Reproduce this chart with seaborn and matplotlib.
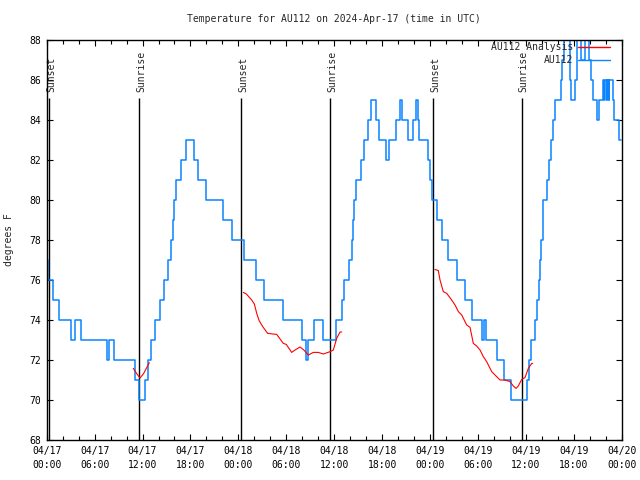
import numpy as np
import pandas as pd
import matplotlib
matplotlib.use('Agg')
import matplotlib.pyplot as plt
import matplotlib.dates as mdates
from matplotlib.lines import Line2D
import seaborn as sns

# hours after 2024-04-17 00:00 UTC where the observed temperature changes
obs_hours = [0.0, 0.2, 0.75, 1.55, 3.05, 3.6, 4.25, 7.55, 7.85, 8.45, 11.1, 11.5,
             12.35, 12.65, 13.1, 13.5, 14.15, 14.65, 15.2, 15.55, 15.8, 16.0, 16.15,
             16.85, 17.5, 18.45, 18.95, 19.95, 22.1, 23.25, 24.65, 26.15, 27.15,
             29.55, 31.95, 32.5, 32.75, 33.45, 34.6, 36.2, 36.95, 37.2, 37.8, 38.25,
             38.35, 38.45, 38.7, 39.3, 39.75, 40.2, 40.6, 41.2, 41.55, 42.45, 42.85,
             43.75, 44.3, 44.45, 45.3, 45.9, 46.3, 46.45, 46.6, 47.75, 47.95, 48.3,
             48.85, 49.55, 50.3, 51.35, 52.4, 53.3, 54.5, 54.7, 55.05, 56.35, 57.3,
             58.1, 60.15, 60.35, 60.6, 61.2, 61.45, 61.6, 61.75, 61.9, 62.1, 62.2,
             62.65, 62.85, 63.15, 63.35, 63.65, 64.35, 64.55, 64.75, 65.5, 65.6,
             66.15, 66.35, 66.9, 67.45, 67.95, 68.1, 68.4, 68.9, 69.2, 69.6, 69.8,
             69.9, 70.1, 70.2, 70.35, 70.45, 70.85, 71.0, 71.6, 71.95]
obs_temps = [77, 76, 75, 74, 73, 74, 73, 72, 73, 72, 71, 70,
             71, 72, 73, 74, 75, 76, 77, 78, 79, 80, 81,
             82, 83, 82, 81, 80, 79, 78, 77, 76, 75,
             74, 73, 72, 73, 74, 73, 74, 75, 76, 77, 78,
             79, 80, 81, 82, 83, 84, 85, 84, 83, 82, 83,
             84, 85, 84, 83, 84, 85, 84, 83, 82, 81, 80,
             79, 78, 77, 76, 75, 74, 73, 74, 73, 72, 71,
             70, 71, 72, 73, 74, 75, 76, 77, 78, 79, 80,
             81, 82, 83, 84, 85, 86, 87, 88, 86, 85,
             86, 88, 87, 88, 87, 86, 85, 84, 85, 86, 85,
             86, 85, 86, 85, 86, 85, 84, 83, 83]

# analysis (three runs)
ana_hours_1 = [10.85, 11.3, 11.68, 12.1, 12.5, 12.85]
ana_temps_1 = [71.58, 71.3, 71.1, 71.3, 71.6, 71.87]
ana_hours_2 = [24.62, 25.0, 25.67, 26.0, 26.3, 26.6, 27.05, 27.67, 28.8, 29.63, 30.0,
               30.67, 31.1, 31.72, 32.2, 32.76, 33.39, 34.0, 34.64, 35.5, 35.89, 36.31,
               36.73, 36.94]
ana_temps_2 = [75.38, 75.3, 75.0, 74.8, 74.33, 73.97, 73.67, 73.33, 73.28, 72.83, 72.78,
               72.38, 72.5, 72.65, 72.5, 72.25, 72.38, 72.38, 72.3, 72.42, 72.5, 73.08,
               73.4, 73.4]
ana_hours_3 = [48.62, 49.04, 49.25, 49.66, 50.09, 50.71, 51.13, 51.55, 51.97, 52.59,
               53.01, 53.42, 53.84, 54.26, 54.67, 55.09, 55.72, 56.14, 56.76, 57.39,
               58.01, 58.43, 58.77, 59.05, 59.48, 59.89, 60.31, 60.73, 60.85]
ana_temps_3 = [76.53, 76.47, 76.0, 75.42, 75.33, 75.0, 74.75, 74.42, 74.25, 73.75,
               73.63, 72.83, 72.7, 72.5, 72.17, 71.92, 71.42, 71.25, 71.0, 71.0,
               70.92, 70.7, 70.58, 70.7, 71.03, 71.12, 71.58, 71.83, 71.83]

sun_hours = [0.33, 11.6, 24.37, 35.51, 48.41, 59.55]
sun_labels = ['Sunset', 'Sunrise', 'Sunset', 'Sunrise', 'Sunset', 'Sunrise']

start = pd.Timestamp('2024-04-17 00:00')


def to_time(hours):
    return start + pd.to_timedelta(np.asarray(hours, dtype=float), unit='h')


sns.set_style('ticks')
plt.rcParams['font.family'] = ['DejaVu Sans Mono']
plt.rcParams['font.size'] = 7

blue = '#0a84ff'
red = '#ff0000'

obs = pd.DataFrame({'time': to_time(obs_hours), 'temp': obs_temps})
ana = pd.concat([
    pd.DataFrame({'time': to_time(h), 'temp': t, 'run': i})
    for i, (h, t) in enumerate([(ana_hours_1, ana_temps_1),
                                (ana_hours_2, ana_temps_2),
                                (ana_hours_3, ana_temps_3)])
])

fig = plt.figure(figsize=(6.4, 4.8), dpi=100)
ax = fig.add_axes([46.7 / 640, 1 - 440 / 480, 575 / 640, 400 / 480])

for h, lab in zip(sun_hours, sun_labels):
    t = to_time([h])[0]
    ax.vlines(t, 68, 85.1, color='black', lw=1.0, zorder=1)
    ax.text(to_time([h + 0.2])[0], 85.4, lab, rotation=90, ha='center', va='bottom',
            fontsize=7, zorder=1)

sns.lineplot(data=ana, x='time', y='temp', units='run', estimator=None,
             color=red, lw=0.8, ax=ax, zorder=3)
sns.lineplot(data=obs, x='time', y='temp', drawstyle='steps-post',
             color=blue, lw=1.1, ax=ax, zorder=2)

ax.set_xlim(start, start + pd.Timedelta(hours=72))
ax.set_ylim(68, 88)
ax.set_yticks(np.arange(68, 89, 2))
ax.xaxis.set_major_locator(mdates.HourLocator(byhour=[0, 6, 12, 18]))
ax.xaxis.set_minor_locator(mdates.HourLocator(byhour=range(0, 24, 2)))
ax.xaxis.set_major_formatter(mdates.DateFormatter('%m/%d\n%H:%M'))
ax.tick_params(which='both', direction='in', top=True, right=True, width=0.8,
               colors='black', labelsize=7)
ax.tick_params(which='major', length=4.5, pad=4)
ax.tick_params(which='minor', length=3)
for lab in ax.get_xticklabels():
    lab.set_linespacing(1.6)
for sp in ax.spines.values():
    sp.set_color('black')
    sp.set_linewidth(1.0)

ax.set_xlabel('')
ax.set_ylabel('degrees F', fontsize=7)
ax.yaxis.set_label_coords(-0.056, 0.5)
ax.text(0.5, 1.0525, 'Temperature for AU112 on 2024-Apr-17 (time in UTC)',
        transform=ax.transAxes, ha='center', va='center', fontsize=7)

handles = [Line2D([], [], color=red, lw=1.0), Line2D([], [], color=blue, lw=1.0)]
ax.legend(handles, ['AU112 Analysis', 'AU112'], loc='upper right',
          bbox_to_anchor=(0.98, 0.995), frameon=False, markerfirst=False,
          handlelength=3.3, handletextpad=0.5, labelspacing=0.3,
          borderaxespad=0, borderpad=0, fontsize=7)

fig.savefig('out.png', dpi=100)
